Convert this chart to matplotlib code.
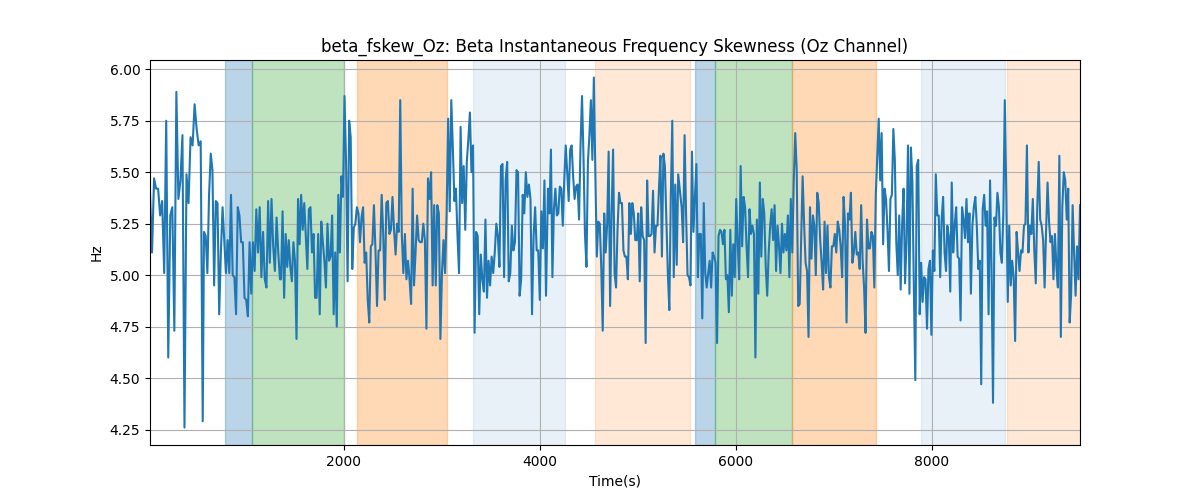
import matplotlib
matplotlib.use("Agg")
import matplotlib.pyplot as plt
import numpy as np

## signal in pieces ##
# each piece: (start time, end time, values in Hz)
seg0a = [5.40, 5.11, 5.47, 5.42, 5.42, 5.29, 5.36, 5.01, 5.75, 4.60, 5.29, 5.33, 4.73, 5.89,
         5.37, 5.46, 5.68, 4.26, 5.49, 5.35, 5.67, 5.63, 5.83, 5.71, 5.63, 5.65, 4.29]
seg0b = [5.21, 5.19, 5.01, 5.39, 5.59, 5.51, 4.95, 5.36, 5.35, 4.81, 5.11, 5.33, 5.17, 5.01,
         5.17, 5.01, 5.39, 5.00, 4.99, 4.81, 5.33, 5.29, 5.16, 5.16, 4.89, 4.88, 4.80, 5.16,
         4.91, 5.16, 5.02, 5.32, 5.11, 5.33, 4.99, 5.21, 4.98, 4.94, 5.36, 5.06, 5.37, 5.14,
         5.02, 5.28, 5.11, 4.98]
seg1 = [4.98, 5.31, 4.89, 5.20, 5.04, 5.17, 5.04, 4.97, 5.16, 5.07, 4.69, 5.37, 5.15, 5.39,
        5.22, 5.35, 5.19, 5.03, 5.32, 5.33, 5.11, 5.20, 4.89, 4.89, 5.20, 4.81, 5.26, 5.16,
        5.07, 4.94, 5.25, 5.07, 5.09, 5.29, 4.81, 5.11, 4.75, 5.39, 5.11, 5.48, 5.38, 5.87,
        5.55, 4.97, 5.75, 5.67, 5.03, 5.23, 5.25, 5.33, 5.30, 5.16, 5.28, 5.33, 5.06, 5.11,
        4.88, 4.77, 5.14, 5.15, 5.34, 5.12, 4.85, 5.12, 5.12, 5.39, 5.20, 4.88, 5.35, 5.36,
        5.20, 5.22, 5.38, 5.22, 5.10, 5.25, 5.21, 5.85, 5.20, 5.01, 5.20, 4.98, 5.07, 4.98,
        4.86, 5.42]
seg2 = [4.95, 5.11, 5.29, 5.17, 5.16, 5.16, 5.25, 5.17, 4.74, 5.47, 5.37, 5.50, 4.95, 5.34,
        4.95, 5.34, 5.30, 4.69, 5.01, 5.17, 5.01, 5.30, 5.76, 5.31, 5.85, 5.62, 5.36, 5.42,
        5.19, 5.01, 5.72, 5.35, 5.53, 5.22, 5.55, 5.66, 5.79, 5.50, 5.63, 4.72, 5.21, 5.19,
        4.81, 5.10, 4.98, 4.92, 5.27, 4.89, 5.07, 4.95, 5.09, 5.01, 5.11, 5.25, 5.19, 5.04,
        5.53, 5.54, 4.99, 5.46, 5.55, 4.97, 5.01, 5.24, 5.12, 5.16, 5.51, 5.50, 4.90, 4.98,
        5.39, 5.30, 5.50, 5.38, 5.44, 5.37, 4.81, 5.19, 5.33, 5.12, 5.12, 4.88, 5.31, 5.13,
        5.46, 4.90]
seg3 = [5.42, 5.30, 5.61, 4.99, 5.32, 5.42, 5.29, 5.30, 5.43, 5.42, 5.24, 5.46, 5.63, 5.50,
        5.36, 5.61, 5.63, 5.48, 5.37, 5.43, 5.44, 5.27, 5.63, 5.87, 5.58, 5.20, 5.04, 5.55,
        5.68, 5.85, 5.56, 5.96, 5.50, 5.09, 5.26, 5.25, 5.04, 4.73, 5.30, 5.11, 5.25, 5.60,
        4.85, 5.30, 5.61, 5.01, 4.94, 5.22, 5.40, 5.35, 5.35, 5.12, 5.09, 5.09, 4.98, 5.35,
        5.20, 5.35, 5.30, 5.17, 5.17, 5.30, 4.97, 5.33, 5.19, 5.17, 4.67, 5.46, 5.19, 5.19,
        5.20, 5.41, 5.11, 5.24, 5.24, 5.42, 5.58, 5.09, 5.59, 5.53, 5.27, 5.01, 4.83, 5.38,
        5.75, 4.99, 5.44, 5.05, 5.49, 5.42]
seg4 = [5.33, 5.16, 5.68, 5.30, 5.00, 4.99, 4.95, 5.60, 5.21, 5.38, 5.54, 4.99, 5.20, 5.20,
        4.79, 5.35, 5.01, 4.94, 5.01, 5.07, 4.94, 5.11, 5.09, 5.06, 4.67, 5.19, 5.22, 5.21,
        5.15, 5.22, 4.98, 5.00, 4.82, 5.22, 4.90, 5.15, 4.99, 5.37, 5.16, 4.98, 5.53, 5.14,
        5.38, 5.33, 5.14, 4.99, 5.32, 5.20, 5.24, 5.20, 4.60, 5.27, 4.91, 5.45, 5.09, 5.37,
        5.30, 5.04, 4.90, 5.11, 5.24, 5.32, 5.17, 5.34, 5.02, 5.24, 5.14, 5.01, 5.25, 5.11,
        5.20, 5.12, 5.29, 4.99, 5.37, 5.11, 5.46, 5.69, 5.51, 4.85, 4.86, 5.17, 5.48, 5.25,
        5.06, 5.02, 4.70, 5.33, 5.08, 5.29]
seg5 = [5.24, 5.00, 5.40, 5.35, 5.17, 5.06, 4.93, 5.26, 5.01, 5.24, 4.99, 4.94, 5.14, 5.14,
        5.20, 5.11, 5.26, 5.22, 5.14, 4.99, 5.38, 5.24, 4.77, 5.30, 5.27, 5.40, 5.06, 5.11,
        5.21, 5.10, 5.11, 5.03, 5.34, 5.07, 4.94, 4.72, 5.27, 5.13, 5.13, 5.21, 5.19, 4.94,
        5.39, 5.58, 5.76, 5.46, 5.69, 5.15, 5.42, 5.37, 5.22, 5.02, 5.37, 5.39, 5.71, 5.56,
        5.16, 5.00, 5.29, 4.93, 5.25, 5.42, 4.96, 5.16, 5.63, 4.91, 5.62, 5.46, 4.94, 4.49,
        5.53, 5.56, 4.81, 5.06, 4.87, 4.99, 4.98, 4.74, 5.03, 5.07, 4.71, 5.12, 5.02, 5.49,
        5.29, 5.29, 4.99, 5.27, 5.38, 5.11, 5.02]
seg6 = [5.24, 5.19, 4.92, 5.45, 5.11, 5.24, 5.33, 5.09, 5.08, 4.78, 5.33, 5.27, 5.18, 5.37,
        5.16, 5.30, 4.91, 5.24, 5.33, 5.38, 5.24, 5.03, 5.07, 4.47, 5.32, 5.39, 5.24, 5.31,
        4.81, 5.46, 5.03, 4.38, 5.28, 5.24, 5.40, 5.33, 5.11, 5.06, 5.30, 5.85, 5.40, 4.87,
        5.24, 4.95, 5.07, 4.99, 4.68, 5.21, 5.11, 5.02, 5.12, 5.11, 5.24, 5.25, 5.63, 5.11,
        5.24, 5.20, 5.37, 5.12, 4.96, 5.33, 5.55, 5.27, 5.24, 5.17, 4.94, 5.22, 5.45, 5.26,
        5.16, 5.19, 4.98, 5.20, 5.04, 4.94, 5.58, 4.70, 5.33, 5.50, 5.46, 5.27, 5.42, 4.77,
        4.91, 5.34, 5.11, 4.90, 5.14, 4.98, 5.34]

segments = [
    (21, 559, seg0a),
    (572, 1347, seg0b),
    (1358, 2701, seg1),
    (2715, 4062, seg2),
    (4082, 5426, seg3),
    (5446, 6786, seg4),
    (6800, 8144, seg5),
    (8157, 9511, seg6),
]

## shaded periods ##
span_starts = [786, 1062, 2133, 3317, 4562, 5582, 5786, 6572, 7888, 8766]
span_ends = [1062, 2000, 3052, 4256, 5531, 5786, 6572, 7429, 8745, 9510]
span_colors = ["tab:blue", "tab:green", "tab:orange", "tab:blue", "tab:orange",
               "tab:blue", "tab:green", "tab:orange", "tab:blue", "tab:orange"]
span_alphas = [0.3, 0.3, 0.3, 0.1, 0.17, 0.3, 0.3, 0.3, 0.1, 0.17]

times = []
values = []
for t0, t1, seg in segments:
    times.extend(np.linspace(t0, t1, len(seg)))
    values.extend(seg)

## plot ##
fig, ax = plt.subplots(figsize=(12, 5), dpi=100)

for s, e, c, a in zip(span_starts, span_ends, span_colors, span_alphas):
    ax.axvspan(s, e, color=c, alpha=a)

ax.plot(times, values, color="tab:blue", linewidth=1.5)

ax.set_xlim(times[0], times[-1])
ax.set_title("beta_fskew_Oz: Beta Instantaneous Frequency Skewness (Oz Channel)")
ax.set_xlabel("Time(s)")
ax.set_ylabel("Hz")
ax.grid(True)

fig.savefig("out.png")
